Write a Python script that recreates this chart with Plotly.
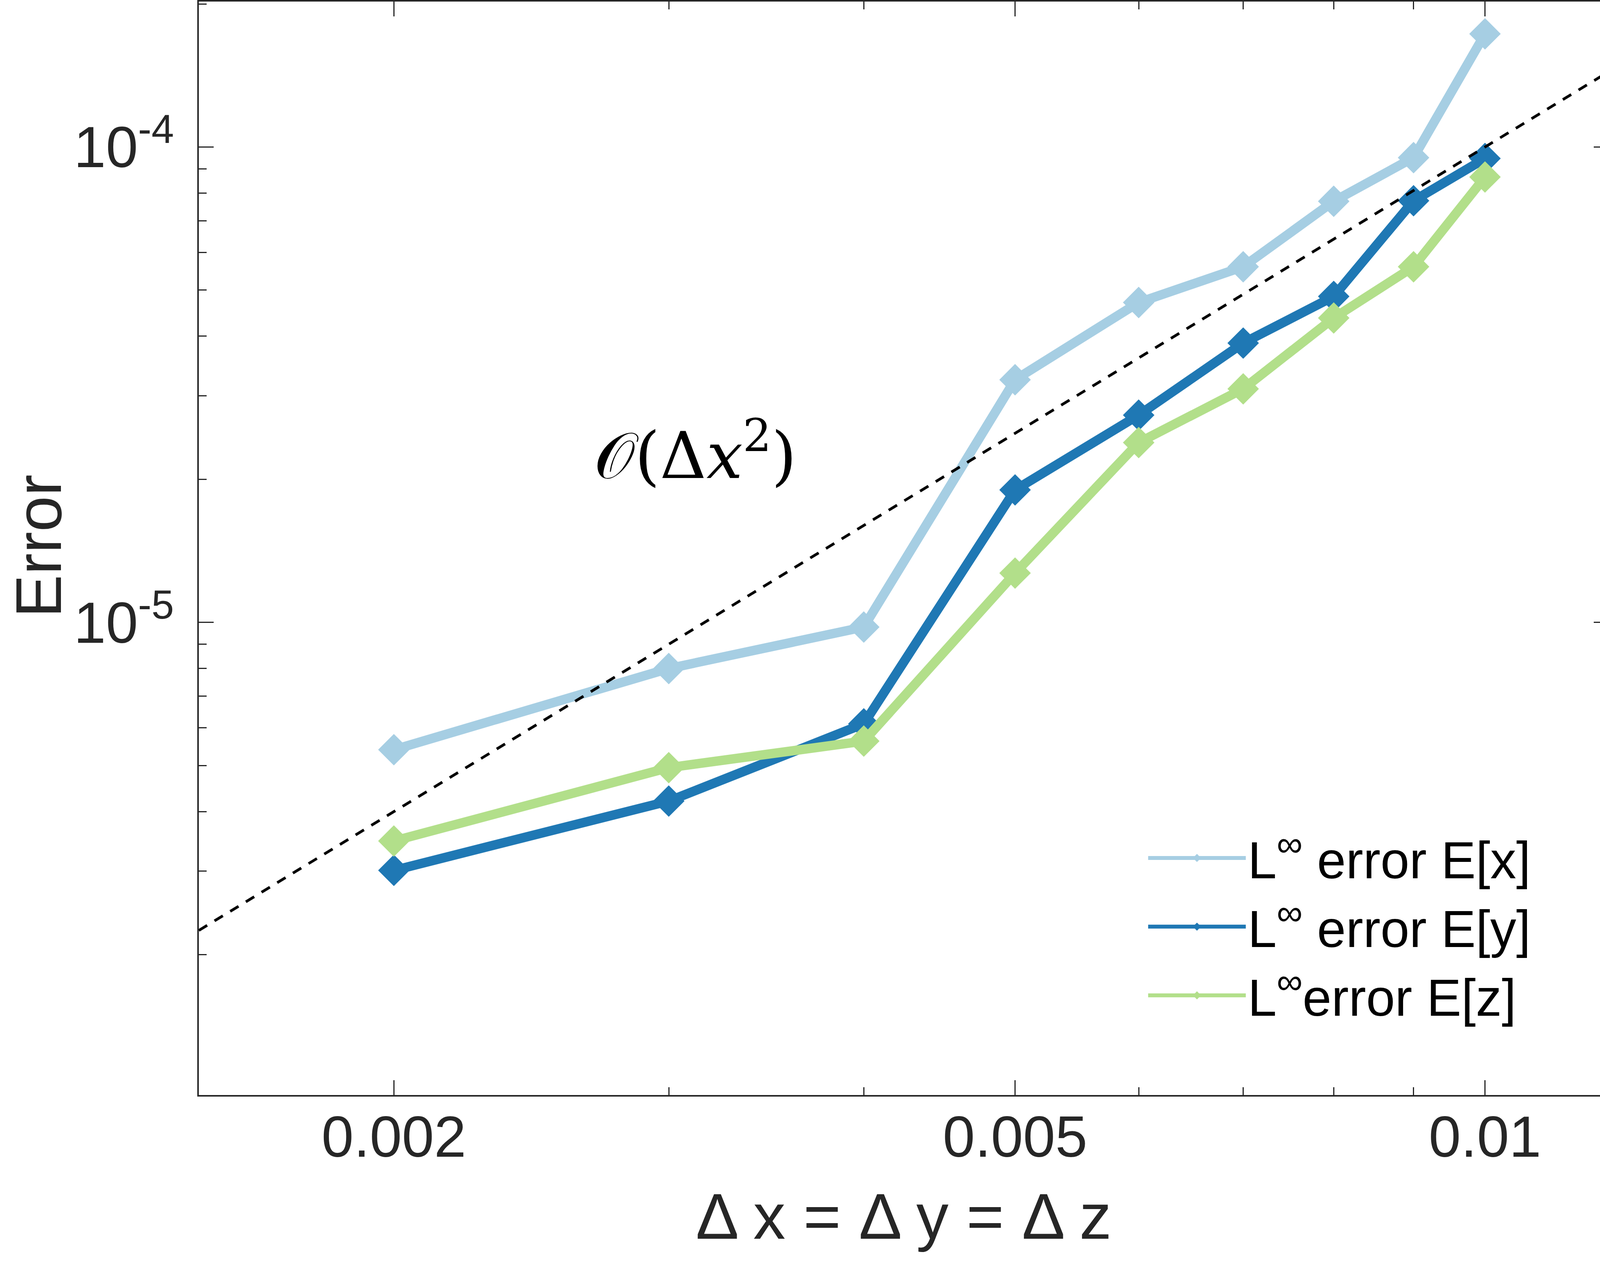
import plotly.graph_objects as go
import math

dx = [0.002, 0.003, 0.004, 0.005, 0.006, 0.007, 0.008, 0.009, 0.01]
err_x = [5.40e-6, 8.00e-6, 9.78e-6, 3.24e-5, 4.71e-5, 5.60e-5, 7.69e-5, 9.50e-5, 1.73e-4]
err_y = [3.01e-6, 4.21e-6, 6.12e-6, 1.90e-5, 2.73e-5, 3.87e-5, 4.85e-5, 7.71e-5, 9.46e-5]
err_z = [3.47e-6, 4.95e-6, 5.63e-6, 1.27e-5, 2.39e-5, 3.10e-5, 4.37e-5, 5.60e-5, 8.65e-5]

ref_x = [0.0015, 0.012]
ref_y = [2.25e-6, 1.44e-4]

names = ["L<sup>∞</sup> error E[x]", "L<sup>∞</sup> error E[y]", "L<sup>∞</sup>error E[z]"]
colors = ["#A6CEE3", "#1F78B4", "#B2DF8A"]

x_major = [0.002, 0.005, 0.01]
x_major_text = ["0.002", "0.005", "0.01"]
x_minor = [0.003, 0.004, 0.006, 0.007, 0.008, 0.009]
y_major = [1e-5, 1e-4]
y_major_text = ["10<sup>-5</sup>", "10<sup>-4</sup>"]
y_minor = [2e-6, 3e-6, 4e-6, 5e-6, 6e-6, 7e-6, 8e-6, 9e-6,
           2e-5, 3e-5, 4e-5, 5e-5, 6e-5, 7e-5, 8e-5, 9e-5, 2e-4]

x_title = "Δ x = Δ y = Δ z"
y_title = "Error"
ref_label = "𝒪(Δ<i>x</i><sup>2</sup>)"

x_range = [math.log10(0.0015), math.log10(0.012)]
y_range = [-5.994, -3.694]

INK = "#262626"
SANS = "Liberation Sans, Arial, sans-serif"

fig = go.Figure()
for ys, nm, c in zip([err_x, err_y, err_z], names, colors):
    fig.add_trace(go.Scatter(
        x=dx, y=ys, name=nm, mode="lines+markers",
        line=dict(color=c, width=24),
        marker=dict(symbol="diamond", size=62, color=c, line=dict(width=0)),
    ))

fig.add_trace(go.Scatter(
    x=ref_x, y=ref_y, mode="lines", showlegend=False,
    line=dict(color="black", width=7, dash="25px,22px"),
))

# empty trace so the mirrored tick axes (top / right) are drawn
fig.add_trace(go.Scatter(x=[], y=[], xaxis="x2", yaxis="y2", showlegend=False,
                         hoverinfo="skip"))

axis_common = dict(
    showline=True, linecolor=INK, linewidth=4,
    ticks="inside", ticklen=38, tickwidth=3, tickcolor=INK,
    showgrid=False, zeroline=False, automargin=False,
    tickfont=dict(family=SANS, size=148, color=INK),
)

fig.update_layout(
    xaxis=dict(
        type="log", range=x_range, autorange=False, mirror=True,
        tickmode="array", tickvals=x_major, ticktext=x_major_text,
        minor=dict(tickmode="array", tickvals=x_minor, ticks="inside", ticklen=20,
                   tickwidth=3, tickcolor=INK, showgrid=False),
        title=dict(text=x_title, standoff=66,
                   font=dict(family=SANS, size=165, color=INK)),
        ticklabelstandoff=-24,
        **axis_common,
    ),
    yaxis=dict(
        type="log", range=y_range, autorange=False, mirror=True,
        tickmode="array", tickvals=y_major, ticktext=y_major_text,
        minor=dict(tickmode="array", tickvals=y_minor, ticks="inside", ticklen=20,
                   tickwidth=3, tickcolor=INK, showgrid=False),
        ticklabelstandoff=30,
        **axis_common,
    ),
    xaxis2=dict(
        type="log", range=x_range, autorange=False, overlaying="x", side="top",
        anchor="y", showline=False, showgrid=False, zeroline=False,
        ticks="inside", ticklen=38, tickwidth=3, tickcolor=INK, showticklabels=False,
        tickmode="array", tickvals=x_major,
        minor=dict(tickmode="array", tickvals=x_minor, ticks="inside", ticklen=20,
                   tickwidth=3, tickcolor=INK, showgrid=False),
    ),
    yaxis2=dict(
        type="log", range=y_range, autorange=False, overlaying="y", side="right",
        anchor="x", showline=False, showgrid=False, zeroline=False,
        ticks="inside", ticklen=38, tickwidth=3, tickcolor=INK, showticklabels=False,
        tickmode="array", tickvals=y_major,
        minor=dict(tickmode="array", tickvals=y_minor, ticks="inside", ticklen=20,
                   tickwidth=3, tickcolor=INK, showgrid=False),
    ),
)

# y-axis title
fig.add_annotation(
    x=-0.1135, y=0.502, xref="paper", yref="paper", xanchor="center", yanchor="middle",
    text=y_title, textangle=-90, showarrow=False,
    font=dict(family=SANS, size=165, color=INK),
)

# reference-slope label
fig.add_annotation(
    x=math.log10(0.00312), y=math.log10(2.29e-5), xref="x", yref="y",
    text=ref_label, showarrow=False,
    font=dict(family="DejaVu Serif, Liberation Serif, serif", size=165, color="black"),
)

fig.update_layout(
    width=4123, height=3229,
    margin=dict(l=509, r=5, t=4, b=425, autoexpand=False),
    paper_bgcolor="white", plot_bgcolor="white",
    showlegend=True,
    legend=dict(
        x=0.672, y=0.25, xanchor="left", yanchor="top",
        bgcolor="rgba(255,255,255,0)", borderwidth=0,
        font=dict(family=SANS, size=133, color="black"),
        itemwidth=250, tracegroupgap=0,
    ),
)

fig.write_html("out.html", config={"displayModeBar": False},
               post_script="document.body.style.margin='0px';")
